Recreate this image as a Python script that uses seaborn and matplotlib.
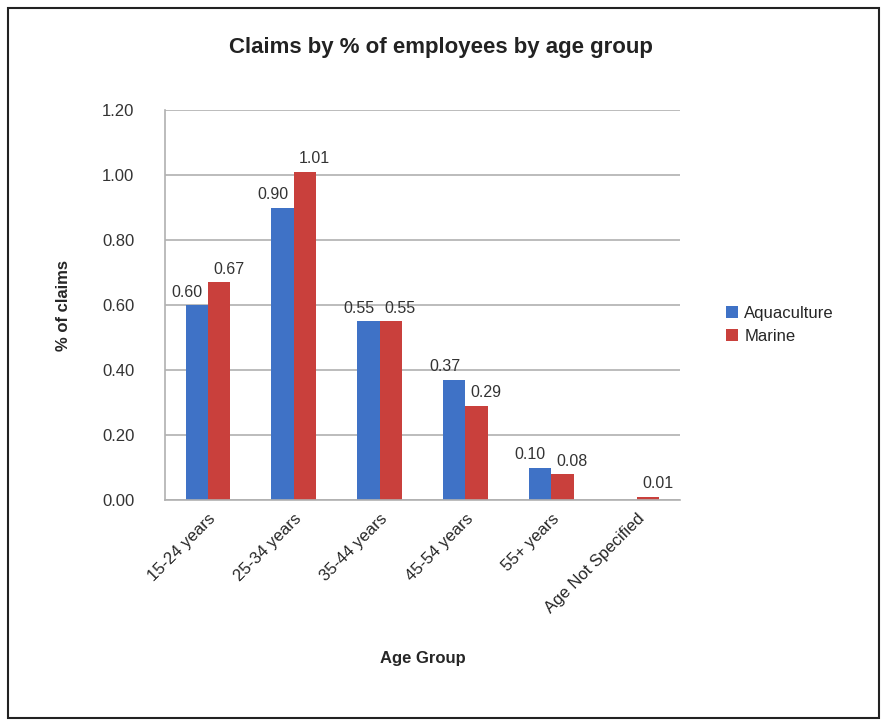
import matplotlib
matplotlib.use("Agg")
import matplotlib.pyplot as plt
import seaborn as sns
import pandas as pd
from matplotlib.patches import Rectangle

categories = ["15-24 years", "25-34 years", "35-44 years", "45-54 years", "55+ years", "Age Not Specified"]
aquaculture = [0.60, 0.90, 0.55, 0.37, 0.10, 0.00]
marine = [0.67, 1.01, 0.55, 0.29, 0.08, 0.01]
series = ["Aquaculture", "Marine"]
colors = ["#3f72c6", "#c9403c"]
yticks = [0.0, 0.2, 0.4, 0.6, 0.8, 1.0, 1.2]

df = pd.DataFrame({
    "Age Group": categories * 2,
    "value": aquaculture + marine,
    "series": [series[0]] * len(categories) + [series[1]] * len(categories),
})

sns.set_theme(style="white")
plt.rcParams["font.family"] = ["Liberation Sans", "DejaVu Sans"]

fig = plt.figure(figsize=(8.82, 7.24), dpi=100)
ax = fig.add_axes([0.187, 0.309, 0.584, 0.539])

sns.barplot(data=df, x="Age Group", y="value", hue="series", palette=colors,
            width=0.52, ax=ax, saturation=1, edgecolor="none")

offsets = [-7, 7]
for k, cont in enumerate(ax.containers):
    for bar in cont:
        h = bar.get_height()
        if h == 0:
            continue
        ax.annotate(f"{h:.2f}", (bar.get_x() + bar.get_width() / 2, h),
                    xytext=(offsets[k], 4), textcoords="offset points",
                    ha="center", va="bottom", fontsize=11.5, color="#333333")

ax.set_ylim(0, 1.2)
ax.set_yticks(yticks)
ax.set_yticklabels([f"{t:.2f}" for t in yticks], fontsize=12, color="#333333")
ax.yaxis.grid(True, color="#b0b0b0", linewidth=1.2)
ax.set_axisbelow(True)
ax.tick_params(axis="y", length=0, pad=22)
ax.set_xticks(range(len(categories)))
ax.set_xticklabels(categories, rotation=45, ha="right", rotation_mode="anchor", fontsize=12)
ax.tick_params(axis="x", length=0, pad=8)
for s in ["top", "right"]:
    ax.spines[s].set_visible(False)
ax.spines["left"].set_color("#b0b0b0")
ax.spines["bottom"].set_color("#b0b0b0")
ax.spines["left"].set_linewidth(1.2)
ax.spines["bottom"].set_linewidth(1.2)

ax.set_xlabel("Age Group", fontsize=12, fontweight="bold", labelpad=25)
ax.set_ylabel("% of claims", fontsize=12, fontweight="bold", labelpad=22)

ax.legend(loc="center left", bbox_to_anchor=(1.06, 0.45), frameon=False,
          fontsize=12, handlelength=0.7, handleheight=0.7, handletextpad=0.4)

fig.text(0.5, 0.935, "Claims by % of employees by age group", ha="center", va="center",
         fontsize=16, fontweight="bold", color="#222222")

fig.patches.append(Rectangle((0.009, 0.008), 0.988, 0.981, transform=fig.transFigure,
                             fill=False, edgecolor="#222222", linewidth=1.5))

fig.savefig("out.png", dpi=100)
